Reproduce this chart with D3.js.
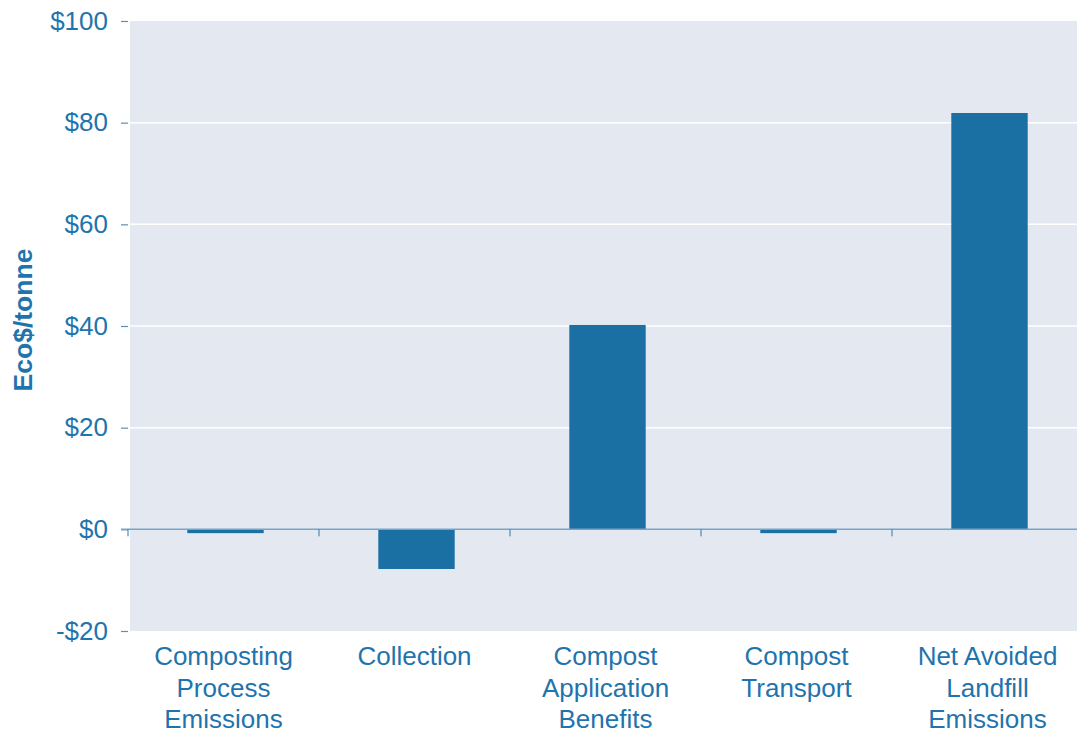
<!DOCTYPE html>
<html><head><meta charset="utf-8">
<script src="https://cdn.jsdelivr.net/npm/d3@7"></script>
<style>body{margin:0;background:#fff;}svg{display:block;font-family:"Liberation Sans",Arial,sans-serif;}</style>
</head><body>
<svg id="c" width="1077" height="736"></svg>
<script>
const categories = [["Composting","Process","Emissions"],["Collection"],["Compost","Application","Benefits"],["Compost","Transport"],["Net Avoided","Landfill","Emissions"]];
const values = [-0.75, -7.8, 40.2, -0.75, 81.9];
const yTicks = [-20, 0, 20, 40, 60, 80, 100];
const yTickLabels = ["-$20","$0","$20","$40","$60","$80","$100"];
const yTitle = "Eco$/tonne";

const textColor = "#1f74ad", barColor = "#1a6fa3", bg = "#e3e8f1";
const svg = d3.select("#c");
const pLeft = 128, pRight = 1083, pTop = 21, pBottom = 631;
const x = d3.scaleBand().domain(d3.range(categories.length)).range([pLeft, pRight]).paddingInner(0.6).paddingOuter(0.3);
const xb = d3.scaleBand().domain(d3.range(categories.length)).range([pLeft, pRight]);
const y = d3.scaleLinear().domain([-20, 100]).range([pBottom, pTop]);

svg.append("rect").attr("x", 130).attr("y", pTop).attr("width", 1077 - 130).attr("height", pBottom - pTop).attr("fill", bg);

// gridlines
svg.append("g").selectAll("line").data(yTicks.filter(v => v > 0 && v < 100)).join("line")
  .attr("x1", 130).attr("x2", 1077).attr("y1", d => y(d)).attr("y2", d => y(d))
  .attr("stroke", "#fff").attr("stroke-width", 1.5);

// y axis
const yAxis = svg.append("g").attr("transform", `translate(128,0)`)
  .call(d3.axisLeft(y).tickValues(yTicks).tickFormat((d, i) => yTickLabels[i]).tickSize(7).tickPadding(13));
yAxis.select(".domain").remove();
yAxis.selectAll(".tick line").attr("stroke", "#5b8fba").attr("stroke-width", 1.2);
yAxis.selectAll(".tick text").attr("fill", textColor).attr("font-size", 26).attr("font-family", "Liberation Sans, Arial, sans-serif");

// bars
svg.append("g").selectAll("rect").data(values).join("rect")
  .attr("x", (d, i) => x(i) + 2).attr("width", x.bandwidth())
  .attr("y", d => y(Math.max(0, d))).attr("height", d => Math.abs(y(d) - y(0)))
  .attr("fill", barColor);

// zero line
svg.append("line").attr("x1", 121).attr("x2", 1077).attr("y1", y(0)).attr("y2", y(0))
  .attr("stroke", "#7aa3c6").attr("stroke-width", 1.5);

// x ticks
svg.append("g").selectAll("line").data(d3.range(categories.length)).join("line")
  .attr("x1", i => xb(i)).attr("x2", i => xb(i)).attr("y1", y(0)).attr("y2", y(0) + 7)
  .attr("stroke", "#2f78ae").attr("stroke-width", 1);

// x labels
const xl = svg.append("g").selectAll("text").data(categories).join("text")
  .attr("x", (d, i) => xb(i) + xb.bandwidth() / 2).attr("y", 665)
  .attr("text-anchor", "middle").attr("fill", textColor).attr("font-size", 26);
xl.selectAll("tspan").data(d => d).join("tspan")
  .attr("x", function() { return this.parentNode.getAttribute("x"); })
  .attr("dy", (d, i) => i === 0 ? 0 : 31.5).text(d => d);

// y title
svg.append("text").attr("transform", `translate(32,${y(40) - 6}) rotate(-90)`)
  .attr("text-anchor", "middle").attr("fill", textColor).attr("font-size", 26.5).attr("font-weight", "bold")
  .text(yTitle);
</script>
</body></html>
